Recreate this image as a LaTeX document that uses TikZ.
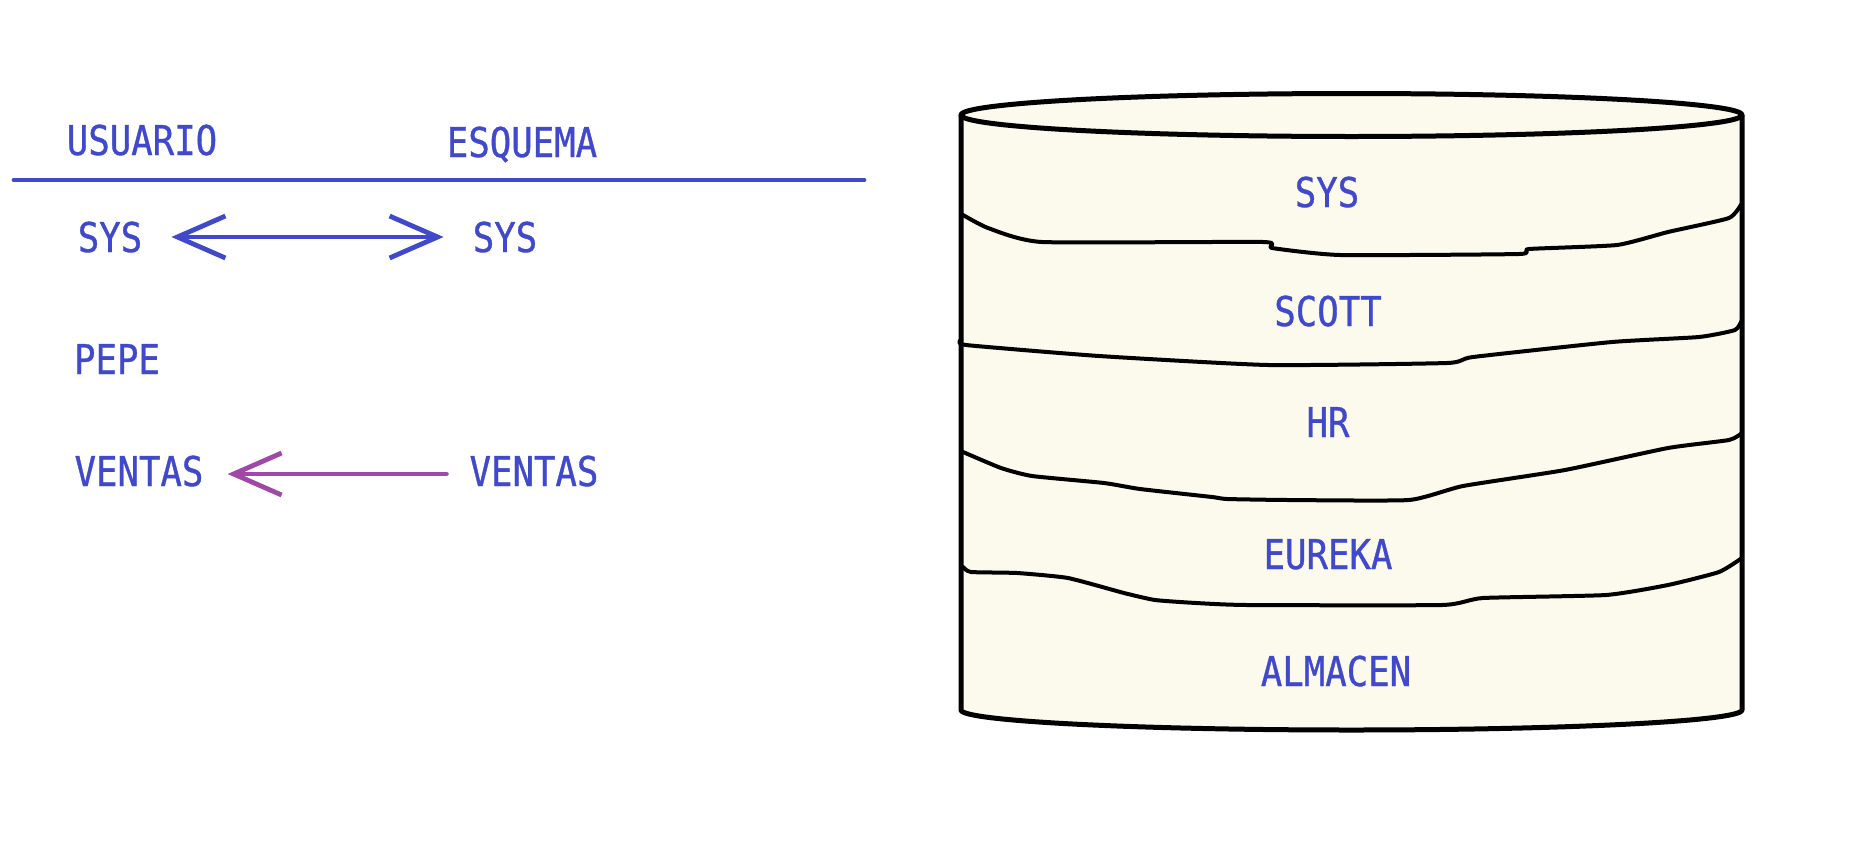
\documentclass[tikz,border=0pt]{standalone}
\usepackage{fontspec}
\newfontfamily\handfont[FakeStretch=0.87,FakeBold=0.8]{DejaVu Sans Mono}
\usetikzlibrary{arrows.meta}
\definecolor{txtblue}{RGB}{64,72,204}
\definecolor{arrpurple}{RGB}{160,72,168}
\definecolor{dbfill}{RGB}{251,250,236}
\tikzset{mybarb/.tip={Straight Barb[length=48pt,width=42pt]}}
\begin{document}
\begin{tikzpicture}[x=1pt,y=-1pt,
  lbl/.style={font=\handfont\fontsize{41}{45}\selectfont, text=txtblue, inner sep=0pt, text height=30pt, text depth=0pt},
  blueline/.style={draw=txtblue, line width=4.8pt, line cap=round},
  chev/.style={line width=4.8pt, line cap=round, line join=round},
  dbline/.style={draw=black, line width=5pt, line join=round},
  layer/.style={draw=black, line width=4pt, line join=round, line cap=round}
]
\useasboundingbox (0,0) rectangle (1861,849);

% left table
\node[lbl] (usuario) at (142,140) {USUARIO};
\node[lbl] (esquema) at (522,142) {ESQUEMA};
\coordinate (hl) at (14,180);
\coordinate (hr) at (864,180);
\draw[blueline] (hl) -- (hr);

\node[lbl] (sysl) at (110,237) {SYS};
\node[lbl] (sysr) at (505,237) {SYS};
\node[lbl] (pepe) at (117,359) {PEPE};
\node[lbl] (ventasl) at (139,471) {VENTAS};
\node[lbl] (ventasr) at (534,471) {VENTAS};

\draw[chev, draw=txtblue, mybarb-mybarb, shorten <=29pt, shorten >=29pt]
  (sysl.east) -- (sysr.west);
\draw[chev, draw=arrpurple, -mybarb, shorten <=23pt, shorten >=24pt]
  ([yshift=-3pt]ventasr.west) -- ([yshift=-3pt]ventasl.east);

% database cylinder
\fill[dbfill] (961,115) -- (961,710)
  arc[start angle=180, end angle=0, x radius=390.5, y radius=20]
  -- (1742,115)
  arc[start angle=0, end angle=-180, x radius=390.5, y radius=21.5] -- cycle;
\draw[dbline] (1351.5,115) ellipse [x radius=390.5, y radius=21.5];
\draw[dbline] (961,115) -- (961,710)
  arc[start angle=180, end angle=0, x radius=390.5, y radius=20]
  -- (1742,115);

\draw[layer] plot[smooth, tension=0.3] coordinates {(963,215) (988,228) (1042,242) (1263,242) (1272,248) (1340,255) (1519,254) (1529,249) (1617,245) (1668,232) (1729,218) (1742,203)};
\draw[layer] plot[smooth, tension=0.3] coordinates {(961,340) (966,345) (1099,356) (1268,365) (1447,363) (1473,357) (1612,342) (1699,337) (1735,330) (1742,320)};
\draw[layer] plot[smooth, tension=0.3] coordinates {(963,452) (1001,468) (1032,476) (1104,483) (1140,489) (1212,497) (1227,499) (1288,500) (1409,500) (1463,486) (1565,470) (1668,448) (1729,440) (1742,433)};
\draw[layer] plot[smooth, tension=0.3] coordinates {(963,567) (971,572) (1017,573) (1068,578) (1124,593) (1155,600) (1196,603) (1247,605) (1442,605) (1483,598) (1606,595) (1668,585) (1719,572) (1742,558)};

\node[lbl] (dsys) at (1327,192) {SYS};
\node[lbl] (dscott) at (1328,311) {SCOTT};
\node[lbl] (dhr) at (1328,422) {HR};
\node[lbl] (deureka) at (1328,554) {EUREKA};
\node[lbl] (dalmacen) at (1336,671) {ALMACEN};
\end{tikzpicture}
\end{document}
